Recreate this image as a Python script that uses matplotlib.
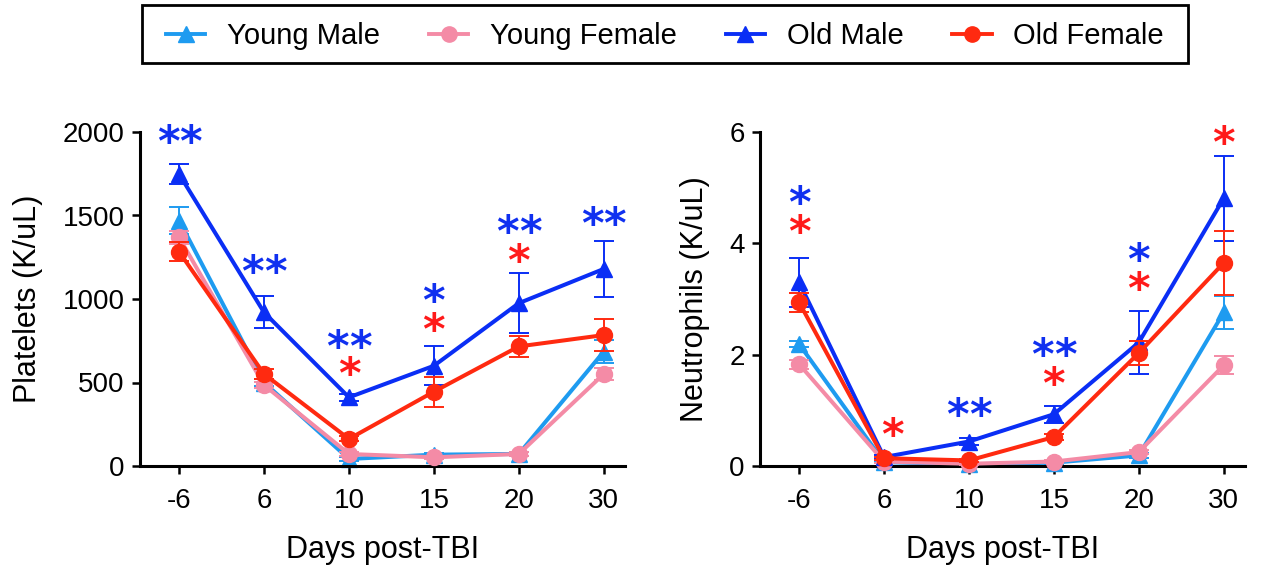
import matplotlib
matplotlib.use("Agg")
import matplotlib.pyplot as plt
from matplotlib.lines import Line2D
from matplotlib.patches import Rectangle

plt.rcParams['font.family'] = ['Liberation Sans', 'DejaVu Sans']

# Datos
dias = ["-6", "6", "10", "15", "20", "30"]
grupos = ["Young Male", "Young Female", "Old Male", "Old Female"]

plaq_young_male = [1470, 500, 42, 68, 72, 685]
plaq_young_male_err = [78, 20, 10, 10, 10, 70]
plaq_young_female = [1369, 485, 72, 52, 72, 551]
plaq_young_female_err = [40, 20, 10, 10, 10, 35]
plaq_old_male = [1748, 920, 411, 600, 975, 1180]
plaq_old_male_err = [62, 95, 22, 116, 180, 168]
plaq_old_female = [1283, 551, 162, 445, 716, 784]
plaq_old_female_err = [57, 30, 15, 90, 65, 95]

neut_young_male = [2.19, 0.07, 0.03, 0.06, 0.19, 2.76]
neut_young_male_err = [0.05, 0.02, 0.02, 0.02, 0.04, 0.30]
neut_young_female = [1.83, 0.08, 0.04, 0.08, 0.25, 1.81]
neut_young_female_err = [0.08, 0.02, 0.02, 0.02, 0.04, 0.16]
neut_old_male = [3.30, 0.16, 0.44, 0.93, 2.22, 4.81]
neut_old_male_err = [0.44, 0.03, 0.07, 0.15, 0.57, 0.76]
neut_old_female = [2.94, 0.14, 0.10, 0.52, 2.03, 3.65]
neut_old_female_err = [0.17, 0.03, 0.03, 0.05, 0.21, 0.57]

# asteriscos: (posición del día, valor y del centro, cantidad, grupo)
plaq_asteriscos = [
    (0, 1990, 2, "Old Male"),
    (1, 1210, 2, "Old Male"),
    (2, 765, 2, "Old Male"),
    (2, 600, 1, "Old Female"),
    (3, 1040, 1, "Old Male"),
    (3, 864, 1, "Old Female"),
    (4, 1450, 2, "Old Male"),
    (4, 1275, 1, "Old Female"),
    (5, 1500, 2, "Old Male"),
]
neut_asteriscos = [
    (0, 4.87, 1, "Old Male"),
    (0, 4.35, 1, "Old Female"),
    (1.1, 0.70, 1, "Old Female"),
    (2, 1.07, 2, "Old Male"),
    (3, 2.14, 2, "Old Male"),
    (3, 1.62, 1, "Old Female"),
    (4, 3.85, 1, "Old Male"),
    (4, 3.33, 1, "Old Female"),
    (5, 5.95, 1, "Old Female"),
]

colores = {"Young Male": "#1E9BF0", "Young Female": "#F48BA6",
           "Old Male": "#0A2EF5", "Old Female": "#FF2A10"}
marcadores = {"Young Male": "^", "Young Female": "o", "Old Male": "^", "Old Female": "o"}
color_ast = {"Old Male": "#1030F0", "Old Female": "#FF1A1A"}
orden = {"Young Male": 2, "Young Female": 3, "Old Male": 4, "Old Female": 5}

fig = plt.figure(figsize=(12.64, 5.68), dpi=100)
ax1 = fig.add_axes([140 / 1264, 1 - 466 / 568, 485 / 1264, 334 / 568])
ax2 = fig.add_axes([760 / 1264, 1 - 466 / 568, 485 / 1264, 334 / 568])

def graficar(ax, series, asteriscos, ylim, yticks, ylabel):
    x = list(range(len(dias)))
    for g in grupos:
        vals, errs = series[g]
        ax.errorbar(x, vals, yerr=errs, color=colores[g], marker=marcadores[g],
                    markersize=11.5, linewidth=2.9, elinewidth=1.4, capsize=7,
                    capthick=1.4, zorder=orden[g], clip_on=False)
    fs = 31
    for xi, yv, n, g in asteriscos:
        for k in range(n):
            dx = (k - (n - 1) / 2) * 16
            ax.annotate("*", (xi, yv), xytext=(dx, -0.52 * fs), textcoords="offset points",
                        ha="center", va="baseline", fontsize=fs, fontweight="bold",
                        family="DejaVu Sans", color=color_ast[g], annotation_clip=False)
    ax.set_xlim(-0.46, 5.25)
    ax.set_ylim(*ylim)
    ax.set_xticks(x)
    ax.set_xticklabels(dias)
    ax.set_yticks(yticks)
    ax.set_ylabel(ylabel, fontsize=22, labelpad=14)
    ax.set_xlabel("Days post-TBI", fontsize=22, labelpad=15)
    ax.spines["top"].set_visible(False)
    ax.spines["right"].set_visible(False)
    ax.spines["left"].set_linewidth(2.2)
    ax.spines["bottom"].set_linewidth(2.2)
    ax.tick_params(axis="both", labelsize=20, width=1.8, length=6)
    ax.tick_params(axis="x", pad=10)
    ax.tick_params(axis="y", pad=5)

graficar(ax1, {"Young Male": (plaq_young_male, plaq_young_male_err),
               "Young Female": (plaq_young_female, plaq_young_female_err),
               "Old Male": (plaq_old_male, plaq_old_male_err),
               "Old Female": (plaq_old_female, plaq_old_female_err)},
         plaq_asteriscos, (0, 2000), [0, 500, 1000, 1500, 2000], "Platelets (K/uL)")

graficar(ax2, {"Young Male": (neut_young_male, neut_young_male_err),
               "Young Female": (neut_young_female, neut_young_female_err),
               "Old Male": (neut_old_male, neut_old_male_err),
               "Old Female": (neut_old_female, neut_old_female_err)},
         neut_asteriscos, (0, 6), [0, 2, 4, 6], "Neutrophils (K/uL)")

# Leyenda superior con marco propio
fig.patches.append(Rectangle((142 / 1264, 1 - 63 / 568), 1046 / 1264, 58 / 568,
                             transform=fig.transFigure, fill=False,
                             edgecolor="black", linewidth=2))
handles = [Line2D([], [], color=colores[g], marker=marcadores[g], markersize=11,
                  linewidth=2.8) for g in grupos]
fig.legend(handles, grupos, loc="center left",
           bbox_to_anchor=(166 / 1264, 1 - 50 / 568, (1164 - 166) / 1264, 28 / 568),
           mode="expand", ncol=4, fontsize=21, frameon=False, borderpad=0,
           borderaxespad=0, handlelength=1.35, handletextpad=0.75)

fig.savefig("out.png", dpi=100)
